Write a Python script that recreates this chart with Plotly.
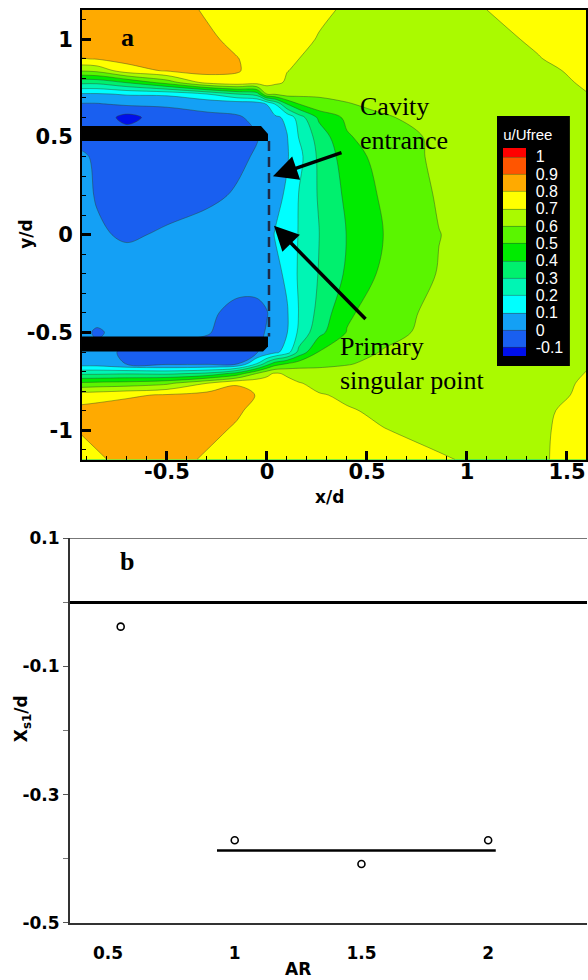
import plotly.graph_objects as go

# ---------------- Panel a : u/Ufree field ----------------
x_nodes = [-0.93, -0.85, -0.7, -0.5, -0.3, -0.15, -0.05, 0.0, 0.04, 0.1, 0.16, 0.26, 0.4, 0.58, 0.86, 1.1, 1.35, 1.6]
# rows listed from top (y = 1.15) to bottom (y = -1.15)
y_nodes_top_down = [1.15, 1.0, 0.9, 0.84, 0.78, 0.72, 0.67, 0.6, 0.5, 0.4, 0.2, 0.0, -0.2, -0.4, -0.5, -0.6,
                    -0.66, -0.71, -0.76, -0.82, -0.9, -1.0, -1.15]
u_rows_top_down = [
    [0.86, 0.86, 0.86, 0.84, 0.79, 0.77, 0.76, 0.755, 0.755, 0.75, 0.74, 0.715, 0.69, 0.68, 0.69, 0.70, 0.715, 0.73],
    [0.87, 0.87, 0.87, 0.85, 0.815, 0.78, 0.76, 0.75, 0.745, 0.735, 0.72, 0.695, 0.68, 0.675, 0.68, 0.69, 0.705, 0.72],
    [0.795, 0.805, 0.83, 0.84, 0.83, 0.803, 0.775, 0.76, 0.745, 0.725, 0.70, 0.68, 0.67, 0.665, 0.67, 0.68, 0.698, 0.715],
    [0.61, 0.63, 0.76, 0.81, 0.83, 0.805, 0.78, 0.765, 0.75, 0.702, 0.69, 0.675, 0.665, 0.66, 0.663, 0.675, 0.69, 0.71],
    [0.33, 0.33, 0.41, 0.55, 0.74, 0.78, 0.75, 0.74, 0.72, 0.69, 0.675, 0.665, 0.66, 0.655, 0.658, 0.67, 0.685, 0.705],
    [0.09, 0.09, 0.11, 0.12, 0.2, 0.3, 0.35, 0.605, 0.61, 0.65, 0.63, 0.61, 0.625, 0.64, 0.65, 0.665, 0.68, 0.699],
    [-0.005, -0.005, 0.02, 0.01, 0.03, 0.04, 0.05, 0.105, 0.205, 0.405, 0.505, 0.58, 0.595, 0.625, 0.645, 0.66, 0.675, 0.695],
    [-0.02, -0.03, -0.14, -0.03, -0.02, -0.01, 0.02, 0.05, 0.08, 0.12, 0.25, 0.42, 0.52, 0.59, 0.635, 0.655, 0.67, 0.69],
    [-0.02, -0.03, -0.03, -0.03, -0.03, -0.02, -0.005, 0.03, 0.06, 0.095, 0.205, 0.34, 0.49, 0.55, 0.62, 0.65, 0.665, 0.685],
    [0.01, -0.01, -0.03, -0.03, -0.03, -0.02, 0.01, 0.04, 0.06, 0.09, 0.17, 0.32, 0.45, 0.54, 0.62, 0.65, 0.665, 0.68],
    [0.02, -0.005, -0.03, -0.03, -0.02, 0.01, 0.03, 0.05, 0.07, 0.115, 0.205, 0.31, 0.42, 0.515, 0.61, 0.645, 0.66, 0.675],
    [0.03, 0.01, -0.01, 0.01, 0.04, 0.05, 0.05, 0.06, 0.105, 0.15, 0.205, 0.298, 0.403, 0.498, 0.598, 0.64, 0.655, 0.67],
    [0.03, 0.04, 0.04, 0.05, 0.05, 0.05, 0.05, 0.06, 0.07, 0.12, 0.215, 0.305, 0.415, 0.52, 0.605, 0.64, 0.655, 0.67],
    [0.02, 0.03, 0.04, 0.04, 0.02, -0.03, -0.03, -0.005, 0.04, 0.09, 0.205, 0.33, 0.485, 0.55, 0.63, 0.645, 0.66, 0.675],
    [0.02, -0.01, 0.03, 0.03, 0.005, -0.03, -0.03, 0.01, 0.05, 0.095, 0.22, 0.37, 0.505, 0.575, 0.625, 0.65, 0.67, 0.685],
    [0.03, 0.02, -0.01, -0.03, -0.03, -0.03, -0.005, 0.03, 0.07, 0.15, 0.33, 0.505, 0.56, 0.605, 0.64, 0.66, 0.675, 0.695],
    [0.05, 0.05, -0.005, -0.02, -0.02, -0.01, 0.205, 0.35, 0.45, 0.505, 0.55, 0.58, 0.595, 0.62, 0.65, 0.665, 0.68, 0.698],
    [0.28, 0.28, 0.29, 0.28, 0.32, 0.44, 0.605, 0.68, 0.71, 0.69, 0.66, 0.63, 0.63, 0.64, 0.655, 0.67, 0.685, 0.701],
    [0.52, 0.53, 0.54, 0.58, 0.70, 0.79, 0.77, 0.74, 0.74, 0.72, 0.705, 0.68, 0.655, 0.65, 0.66, 0.675, 0.69, 0.703],
    [0.75, 0.76, 0.785, 0.81, 0.835, 0.84, 0.795, 0.77, 0.76, 0.745, 0.73, 0.705, 0.69, 0.67, 0.665, 0.675, 0.69, 0.705],
    [0.83, 0.84, 0.85, 0.85, 0.84, 0.81, 0.78, 0.77, 0.765, 0.755, 0.745, 0.73, 0.705, 0.69, 0.675, 0.68, 0.688, 0.72],
    [0.805, 0.82, 0.845, 0.85, 0.82, 0.79, 0.775, 0.77, 0.765, 0.76, 0.75, 0.74, 0.725, 0.702, 0.685, 0.685, 0.69, 0.725],
    [0.77, 0.79, 0.82, 0.83, 0.79, 0.775, 0.77, 0.765, 0.765, 0.76, 0.755, 0.75, 0.74, 0.725, 0.705, 0.69, 0.695, 0.715],
]

band_colors = [
    "rgb(0,15,235)",     # < -0.1
    "rgb(25,95,240)",    # -0.1..0
    "rgb(20,160,245)",   # 0..0.1
    "rgb(0,255,255)",    # 0.1..0.2
    "rgb(0,245,180)",    # 0.2..0.3
    "rgb(0,240,110)",    # 0.3..0.4
    "rgb(0,235,0)",      # 0.4..0.5
    "rgb(90,245,0)",     # 0.5..0.6
    "rgb(170,250,0)",    # 0.6..0.7
    "rgb(255,255,0)",    # 0.7..0.8
    "rgb(255,170,0)",    # 0.8..0.9
    "rgb(255,85,0)",     # 0.9..1
    "rgb(255,0,0)",      # > 1
]
cbar_tickvals = [-0.1, 0.0, 0.1, 0.2, 0.3, 0.4, 0.5, 0.6, 0.7, 0.8, 0.9, 1.0]
cbar_ticktext = ["-0.1", "0", "0.1", "0.2", "0.3", "0.4", "0.5", "0.6", "0.7", "0.8", "0.9", "1"]

xa_ticks = [-0.5, 0, 0.5, 1, 1.5]
xa_ticktext = ["-0.5", "0", "0.5", "1", "1.5"]
ya_ticks = [-1, -0.5, 0, 0.5, 1]
ya_ticktext = ["-1", "-0.5", "0", "0.5", "1"]

# ---------------- Panel b ----------------
ar_values = [0.55, 1.0, 1.5, 2.0]
xs1_values = [-0.038, -0.371, -0.408, -0.371]
mean_ar = [0.93, 2.03]
mean_xs1 = [-0.387, -0.387]
xb_ticks = [0.5, 1, 1.5, 2]
xb_ticktext = ["0.5", "1", "1.5", "2"]
yb_ticks = [0.1, -0.1, -0.3, -0.5]
yb_ticktext = ["0.1", "-0.1", "-0.3", "-0.5"]

# ---------------- figure ----------------
W, H = 588, 980
ML, MR, MT, MB = 70, 0, 5, 57
PW, PH = W - ML - MR, H - MT - MB


def px_x(p):
    return (p - ML) / PW


def px_y(p):
    return (H - MB - p) / PH


n = len(band_colors)
colorscale = [[i / (n - 1), c] for i, c in enumerate(band_colors)]

fig = go.Figure()
fig.add_trace(go.Contour(
    x=x_nodes, y=y_nodes_top_down[::-1], z=u_rows_top_down[::-1],
    autocontour=False,
    contours=dict(start=-0.1, end=1.0, size=0.1, coloring="fill", showlines=True),
    line=dict(color="rgba(45,70,40,0.55)", width=0.8, smoothing=1),
    colorscale=colorscale, zmin=-0.15, zmax=1.05,
    hoverinfo="skip",
    colorbar=dict(
        x=px_x(498), xanchor="left", xref="paper",
        y=px_y(363), yanchor="bottom", yref="paper",
        lenmode="pixels", len=250, thickness=23, thicknessmode="pixels",
        bgcolor="black", outlinewidth=0, borderwidth=0, xpad=6, ypad=10,
        tickvals=cbar_tickvals, ticktext=cbar_ticktext, ticks="outside", ticklen=7, tickcolor="black",
        tickfont=dict(color="white", size=16, family="Liberation Sans"),
        title=dict(text="\u00a0\u00a0\u00a0u/Ufree", side="top",
                   font=dict(color="white", size=15, family="Liberation Sans")),
    ),
    xaxis="x", yaxis="y",
))

fig.add_trace(go.Scatter(
    x=ar_values, y=xs1_values, mode="markers",
    marker=dict(symbol="circle-open", size=7, color="black", line=dict(width=1.6, color="black")),
    xaxis="x2", yaxis="y2", showlegend=False, hoverinfo="skip"))
fig.add_trace(go.Scatter(
    x=mean_ar, y=mean_xs1, mode="lines", line=dict(color="black", width=2.5),
    xaxis="x2", yaxis="y2", showlegend=False, hoverinfo="skip"))

tickfont_a = dict(family="DejaVu Sans", size=21, color="black", weight="bold")
tickfont_b = dict(family="DejaVu Sans", size=17, color="black", weight="bold")

fig.update_layout(
    width=W, height=H, margin=dict(l=ML, r=MR, t=MT, b=MB),
    paper_bgcolor="white", plot_bgcolor="white", showlegend=False,
    xaxis=dict(domain=[px_x(82), px_x(587)], range=[-0.925, 1.595], anchor="y",
               tickvals=xa_ticks, ticktext=xa_ticktext, ticks="inside", ticklen=9, tickwidth=2.5,
               tickcolor="black", minor=dict(ticks="inside", ticklen=4, dtick=0.1, tick0=0, tickwidth=1, tickcolor="black"),
               showline=True, linewidth=2, linecolor="black", mirror=True, showgrid=False, zeroline=False,
               tickfont=tickfont_a, ticklabelstandoff=-8),
    yaxis=dict(domain=[px_y(457), px_y(5)], range=[-1.15, 1.15], anchor="x",
               tickvals=ya_ticks, ticktext=ya_ticktext, ticks="inside", ticklen=9, tickwidth=2.5,
               tickcolor="black", minor=dict(ticks="inside", ticklen=4, dtick=0.1, tick0=0, tickwidth=1, tickcolor="black"),
               showline=True, linewidth=2, linecolor="black", mirror=True, showgrid=False, zeroline=False,
               tickfont=tickfont_a, ticklabelstandoff=3),
    xaxis2=dict(domain=[0, 1], range=[0.35, 2.39], anchor="y2",
                tickvals=xb_ticks, ticktext=xb_ticktext, ticks="",
                showline=True, linewidth=2, linecolor="#333", showgrid=False, zeroline=False,
                tickfont=tickfont_b, ticklabelstandoff=14),
    yaxis2=dict(domain=[0, px_y(536)], range=[-0.5, 0.1], anchor="x2",
                tickvals=yb_ticks, ticktext=yb_ticktext, ticks="outside", ticklen=5, tickwidth=1,
                tickcolor="#555", minor=dict(ticks="outside", ticklen=5, dtick=0.1, tick0=0.1, tickwidth=1, tickcolor="#777"),
                showline=True, linewidth=2, linecolor="#333", showgrid=False,
                zeroline=True, zerolinecolor="black", zerolinewidth=2.5,
                tickfont=tickfont_b),
)

shapes = [
    # plates of the cavity (panel a)
    dict(type="path", xref="x", yref="y", layer="above", line=dict(width=0), fillcolor="black",
         path="M -1,0.48 L 0.005,0.48 L 0.005,0.515 L -0.03,0.556 L -1,0.556 Z"),
    dict(type="path", xref="x", yref="y", layer="above", line=dict(width=0), fillcolor="black",
         path="M -1,-0.52 L 0.005,-0.52 L 0.005,-0.572 L -0.02,-0.597 L -1,-0.597 Z"),
    # cavity entrance dashed line
    dict(type="line", xref="x", yref="y", layer="above", x0=0.01, x1=0.01, y0=0.48, y1=-0.52,
         line=dict(color="#1b2a48", width=2.5, dash="10px,6px")),
    # top frame of panel b
    dict(type="line", xref="paper", yref="y2", layer="above", x0=0, x1=1, y0=0.1, y1=0.1,
         line=dict(color="#777", width=2)),
]
fig.update_layout(shapes=shapes)

serif = "Liberation Serif"
title_font = dict(family="DejaVu Sans", size=17, color="black", weight="bold")
annotations = [
    dict(x=0.03, y=0.30, ax=0.38, ay=0.423, xref="x", yref="y", axref="x", ayref="y", text="",
         showarrow=True, arrowhead=2, arrowsize=1.4, arrowwidth=3.5, arrowcolor="black"),
    dict(x=0.035, y=0.046, ax=0.5, ay=-0.439, xref="x", yref="y", axref="x", ayref="y", text="",
         showarrow=True, arrowhead=2, arrowsize=1.4, arrowwidth=3.5, arrowcolor="black"),
    dict(x=0.455, y=0.571, xref="x", yref="y", xanchor="left", yanchor="middle", align="left",
         text="Cavity<br>entrance", showarrow=False, font=dict(family=serif, size=26, color="black")),
    dict(x=0.355, y=-0.658, xref="x", yref="y", xanchor="left", yanchor="middle", align="left",
         text="Primary<br>singular point", showarrow=False, font=dict(family=serif, size=26, color="black")),
    dict(x=-0.695, y=1.01, xref="x", yref="y", text="a", showarrow=False,
         xanchor="center", yanchor="middle",
         font=dict(family=serif, size=26, color="black", weight="bold")),
    dict(x=0.575, y=0.063, xref="x2", yref="y2", text="b", showarrow=False,
         xanchor="center", yanchor="middle",
         font=dict(family=serif, size=26, color="black", weight="bold")),
    # axis titles
    dict(x=px_x(330), y=px_y(495), xref="paper", yref="paper", text="x/d", showarrow=False,
         xanchor="center", yanchor="middle", font=title_font),
    dict(x=px_x(26), y=px_y(231), xref="paper", yref="paper", text="y/d", showarrow=False, textangle=-90,
         xanchor="center", yanchor="middle", font=title_font),
    dict(x=px_x(298), y=px_y(969), xref="paper", yref="paper", text="AR", showarrow=False,
         xanchor="center", yanchor="middle", font=title_font),
    dict(x=px_x(22), y=px_y(718), xref="paper", yref="paper", text="X<sub>s1</sub>/d", showarrow=False,
         textangle=-90, xanchor="center", yanchor="middle", font=title_font),
]
fig.update_layout(annotations=annotations)

fig.write_html("out.html")
